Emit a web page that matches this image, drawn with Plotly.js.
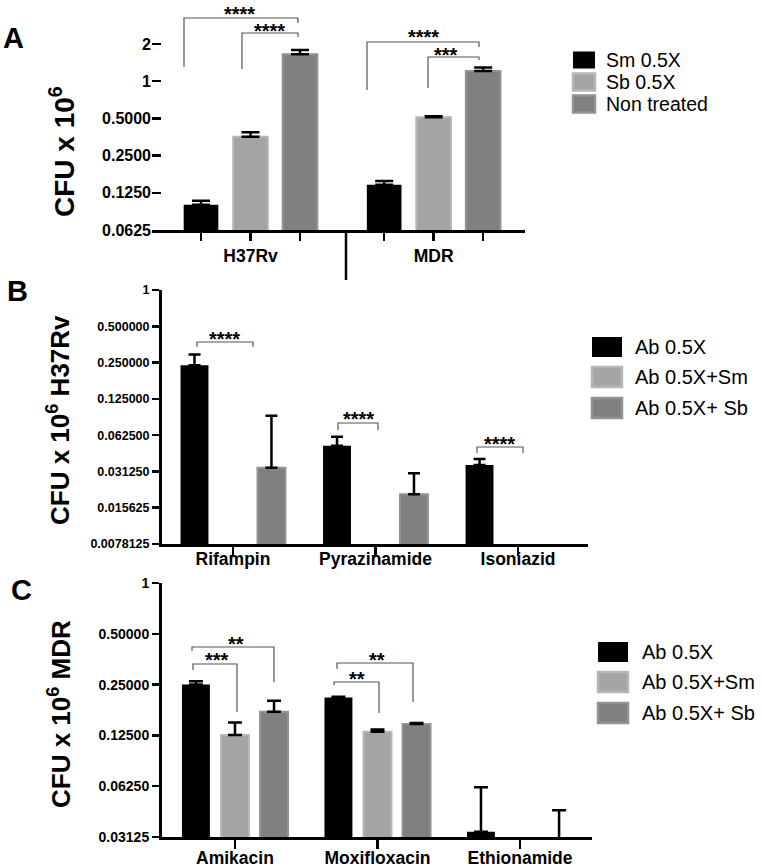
<!DOCTYPE html>
<html><head><meta charset="utf-8">
<script src="https://cdn.plot.ly/plotly-3.0.1.min.js"></script>
<style>html,body{margin:0;padding:0;background:#fff}#chart{width:762px;height:868px}</style>
</head><body><div id="chart"></div>
<script>
// ---------- Panel A data ----------
const strainsA = ['H37Rv', 'MDR'];
const seriesA = ['Sm 0.5X', 'Sb 0.5X', 'Non treated'];
const smA = [0.100, 0.145];
const smAerr = [0.008, 0.011];
const sbA = [0.356, 0.51];
const sbAerr = [0.03, 0.01];
const ntA = [1.65, 1.21];
const ntAerr = [0.14, 0.08];
const yTicksA = [0.0625, 0.125, 0.25, 0.5, 1, 2];
const yTickTextA = ['0.0625', '0.1250', '0.2500', '0.5000', '1', '2'];

// ---------- Panel B data ----------
const drugsB = ['Rifampin', 'Pyrazinamide', 'Isoniazid'];
const seriesBC = ['Ab 0.5X', 'Ab 0.5X+Sm', 'Ab 0.5X+ Sb'];
const abB = [0.238, 0.051, 0.0353];
const abBerr = [0.054, 0.0096, 0.0043];
const smB = [null, null, null];
const smBerr = [null, null, null];
const sbB = [0.0335, 0.0202, null];
const sbBerr = [0.057, 0.010, null];
const yTicksB = [0.0078125, 0.015625, 0.03125, 0.0625, 0.125, 0.25, 0.5, 1];
const yTickTextB = ['0.0078125', '0.015625', '0.031250', '0.062500', '0.125000', '0.250000', '0.500000', '1'];

// ---------- Panel C data ----------
const drugsC = ['Amikacin', 'Moxifloxacin', 'Ethionamide'];
const abC = [0.251, 0.21, 0.0336];
const abCerr = [0.011, 0.002, 0.028];
const smC = [0.126, 0.1315, null];
const smCerr = [0.023, 0.004, null];
const sbC = [0.173, 0.146, 0.02];
const sbCerr = [0.028, 0.002, 0.025];
const yTicksC = [0.03125, 0.0625, 0.125, 0.25, 0.5, 1];
const yTickTextC = ['0.03125', '0.06250', '0.12500', '0.25000', '0.50000', '1'];

// significance labels
const sigA = ['****', '****', '****', '***'];
const sigB = ['****', '****', '****'];
const sigC = ['**', '***', '**', '**'];

// ---------- styling ----------
const W = 762, H = 868;
const px = x => x / W, py = y => 1 - y / H;
const FONT = 'Liberation Sans, Arial, Helvetica, sans-serif';
const fills = ['#000000', '#a4a4a7', '#808081'];
const borders = ['#000000', '#b7b7b9', '#939394'];

function errOf(arr, w) {
  return {type: 'data', symmetric: false, array: arr, arrayminus: arr.map(v => v == null ? null : 0),
    color: '#000', thickness: 2.5, width: w};
}
function barTrace(name, cats, vals, errs, si, xa, ya, groupStep, slot, width, errW) {
  return {
    type: 'bar', name: name, x: cats.map((c, g) => g * groupStep + (si - 1) * slot), y: vals,
    width: width, xaxis: xa, yaxis: ya, marker: {color: fills[si], line: {color: borders[si], width: si === 0 ? 0 : 2}},
    error_y: errOf(errs, errW), hovertext: cats, showlegend: false
  };
}

const GA = 3.7; // group step panel A (bar slots = 1)
const traces = [];
[smA, sbA, ntA].forEach((v, si) => traces.push(barTrace(seriesA[si], strainsA, v, [smAerr, sbAerr, ntAerr][si], si, 'x', 'y', GA, 1, 0.7, 9)));
[abB, smB, sbB].forEach((v, si) => traces.push(barTrace(seriesBC[si], drugsB, v, [abBerr, smBerr, sbBerr][si], si, 'x2', 'y2', 1, 0.27, 0.196, 6)));
[abC, smC, sbC].forEach((v, si) => traces.push(barTrace(seriesBC[si], drugsC, v, [abCerr, smCerr, sbCerr][si], si, 'x3', 'y3', 1, 0.274, 0.196, 7)));

// x ticks panel A: one per bar, label under centre bar
const tickValsA = [], tickTextA = [];
strainsA.forEach((s, g) => { [-1, 0, 1].forEach(o => { tickValsA.push(g * GA + o); tickTextA.push(o === 0 ? s : ' '); }); });

const axisLine = {showline: true, linewidth: 3, linecolor: '#000', showgrid: false, zeroline: false, tickcolor: '#000', tickwidth: 2.5};
// panel A: 186 px for log10(32) units; leave a little headroom above the "2" tick
const pxPerLogA = 186 / Math.log10(32);
const extraA = 0.03;
const topA = Math.log10(2) + extraA;

const layout = {
  width: W, height: H, margin: {l: 0, r: 0, t: 0, b: 0},
  paper_bgcolor: '#fff', plot_bgcolor: 'rgba(0,0,0,0)', showlegend: false, barmode: 'overlay',
  font: {family: FONT, color: '#000'},
  xaxis: Object.assign({}, axisLine, {domain: [px(152), px(525)], range: [-1.99, 5.545], anchor: 'y',
    tickvals: tickValsA, ticktext: tickTextA, ticks: 'outside', ticklen: 8, tickfont: {size: 17.5, weight: 'bold'}}),
  yaxis: Object.assign({}, axisLine, {domain: [py(230), py(44 - extraA * pxPerLogA)], type: 'log', range: [Math.log10(0.0625), topA], anchor: 'x',
    showline: false, tickvals: yTicksA, ticktext: yTickTextA, ticks: 'inside', ticklen: 9, tickfont: {size: 16, weight: 'bold'}}),
  xaxis2: Object.assign({}, axisLine, {domain: [px(162), px(588)], range: [-0.498, 2.491], anchor: 'y2',
    tickvals: drugsB.map((d, i) => i), ticktext: drugsB, ticks: 'outside', ticklen: 9, ticklabelstandoff: -12, tickfont: {size: 17.5, weight: 'bold'}}),
  yaxis2: Object.assign({}, axisLine, {domain: [py(544), py(290)], type: 'log', range: [Math.log10(0.0078125), 0.001], anchor: 'x2',
    tickvals: yTicksB, ticktext: yTickTextB, ticks: 'outside', ticklen: 7, tickfont: {size: 12.5, weight: 'bold'}}),
  xaxis3: Object.assign({}, axisLine, {domain: [px(162), px(592)], range: [-0.512, 2.505], anchor: 'y3',
    tickvals: drugsC.map((d, i) => i), ticktext: drugsC, ticks: 'outside', ticklen: 9, ticklabelstandoff: -6, tickfont: {size: 17.5, weight: 'bold'}}),
  yaxis3: Object.assign({}, axisLine, {domain: [py(837), py(583)], type: 'log', range: [Math.log10(0.03125), 0.001], anchor: 'x3',
    tickvals: yTicksC, ticktext: yTickTextC, ticks: 'outside', ticklen: 7, tickfont: {size: 14, weight: 'bold'}}),
  shapes: [], annotations: []
};

function ann(text, x, y, size, opts) {
  layout.annotations.push(Object.assign({text: text, x: px(x), y: py(y), xref: 'paper', yref: 'paper', showarrow: false,
    xanchor: 'center', yanchor: 'middle', font: {family: FONT, size: size, color: '#000'}}, opts || {}));
}
// panel letters
ann('<b>A</b>', 13, 38, 29); ann('<b>B</b>', 17, 291, 29); ann('<b>C</b>', 21, 590, 29);
// y titles
ann('<b>CFU x 10<sup>6</sup></b>', 62, 152, 28, {textangle: -90});
ann('<b>CFU x 10<sup>6</sup> H37Rv</b>', 58, 420, 26, {textangle: -90});
ann('<b>CFU x 10<sup>6</sup> MDR</b>', 59, 714, 26, {textangle: -90});

// separator line under panel A
layout.shapes.push({type: 'line', xref: 'paper', yref: 'paper', x0: px(346), x1: px(346), y0: py(230), y1: py(280), line: {color: '#000', width: 2.5}});

// legends (manual)
function legend(names, x0, w, h, yc, tx, size) {
  names.forEach((n, i) => {
    layout.shapes.push({type: 'rect', xref: 'paper', yref: 'paper', x0: px(x0), x1: px(x0 + w), y0: py(yc[i] + h / 2), y1: py(yc[i] - h / 2),
      fillcolor: fills[i], line: {color: borders[i], width: i === 0 ? 0 : 2.5}});
    ann(n, tx, yc[i], size, {xanchor: 'left'});
  });
}
legend(seriesA, 573, 22, 17, [60, 82, 104], 604, 19.5);
legend(seriesBC, 592, 30, 20, [347, 377, 408], 633, 20);
legend(seriesBC, 598, 30, 20, [652, 682, 713], 640, 20);

// significance brackets
function bracket(x1, x2, yt, yl, yr, label, lx, ly) {
  layout.shapes.push({type: 'path', xref: 'paper', yref: 'paper',
    path: `M ${px(x1)},${py(yl)} L ${px(x1)},${py(yt)} L ${px(x2)},${py(yt)} L ${px(x2)},${py(yr)}`,
    line: {color: '#555', width: 1.2}});
  ann('<b>' + label + '</b>', lx, ly + 6, 20);
}
bracket(184, 298, 18, 67, 23, sigA[0], 239, 8);
bracket(242, 298, 33, 69, 37, sigA[1], 269, 25);
bracket(367, 479, 42, 90, 47, sigA[2], 423, 31);
bracket(428, 479, 57, 88, 60, sigA[3], 446, 49);
bracket(197, 253, 342, 347, 347, sigB[0], 225, 333);
bracket(338, 378, 423, 430, 430, sigB[1], 358, 413);
bracket(477, 523, 447, 453, 453, sigB[2], 499, 438);
bracket(192, 274, 647, 651, 682, sigC[0], 236, 638);
bracket(193, 237, 664, 670, 712, sigC[1], 217, 654);
bracket(337, 413, 663, 669, 702, sigC[2], 377, 654);
bracket(334, 379, 682, 685, 713, sigC[3], 357, 673);

Plotly.newPlot('chart', traces, layout, {displayModeBar: false, staticPlot: true});
</script></body></html>
